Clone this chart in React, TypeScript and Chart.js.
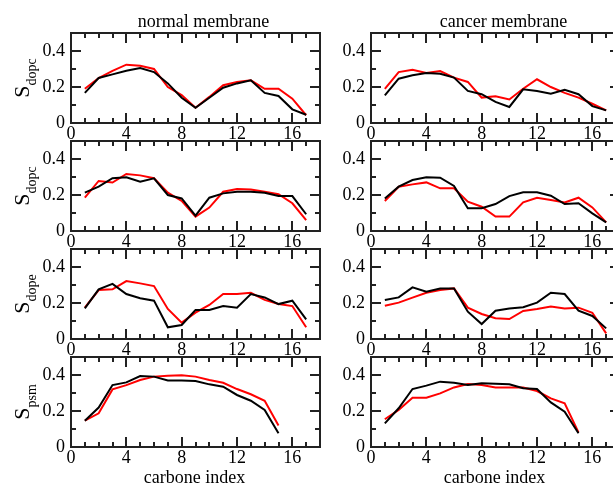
import React, { useEffect, useRef } from "react";
import { Chart, registerables } from "chart.js";

Chart.register(...registerables);

// ---------- data ----------
const carbonIdx17 = [1, 2, 3, 4, 5, 6, 7, 8, 9, 10, 11, 12, 13, 14, 15, 16, 17];
const carbonIdx15 = [1, 2, 3, 4, 5, 6, 7, 8, 9, 10, 11, 12, 13, 14, 15];

const normDopcA_black = [0.167, 0.25, 0.27, 0.29, 0.305, 0.283, 0.22, 0.14, 0.085, 0.14, 0.196, 0.22, 0.237, 0.167, 0.15, 0.076, 0.046];
const normDopcA_red = [0.19, 0.25, 0.29, 0.324, 0.318, 0.3, 0.2, 0.155, 0.085, 0.145, 0.21, 0.228, 0.237, 0.19, 0.19, 0.135, 0.043];
const cancDopcA_black = [0.154, 0.246, 0.265, 0.278, 0.274, 0.252, 0.178, 0.16, 0.117, 0.089, 0.187, 0.178, 0.163, 0.185, 0.16, 0.094, 0.07];
const cancDopcA_red = [0.19, 0.283, 0.296, 0.278, 0.289, 0.252, 0.228, 0.141, 0.148, 0.131, 0.19, 0.243, 0.2, 0.167, 0.141, 0.107, 0.07];

const normDopcB_black = [0.213, 0.246, 0.293, 0.298, 0.274, 0.293, 0.2, 0.181, 0.085, 0.185, 0.209, 0.218, 0.218, 0.213, 0.194, 0.194, 0.093];
const normDopcB_red = [0.185, 0.278, 0.269, 0.317, 0.309, 0.293, 0.213, 0.167, 0.08, 0.13, 0.218, 0.233, 0.231, 0.218, 0.204, 0.154, 0.061];
const cancDopcB_black = [0.181, 0.246, 0.283, 0.298, 0.296, 0.25, 0.126, 0.126, 0.15, 0.194, 0.215, 0.215, 0.196, 0.15, 0.154, 0.098, 0.048];
const cancDopcB_red = [0.167, 0.246, 0.259, 0.27, 0.237, 0.237, 0.163, 0.135, 0.08, 0.08, 0.159, 0.185, 0.172, 0.159, 0.185, 0.131, 0.048];

const normDope_black = [0.17, 0.276, 0.306, 0.25, 0.226, 0.213, 0.065, 0.078, 0.161, 0.161, 0.183, 0.174, 0.25, 0.231, 0.194, 0.213, 0.109];
const normDope_red = [0.174, 0.272, 0.276, 0.322, 0.309, 0.294, 0.167, 0.091, 0.146, 0.189, 0.25, 0.25, 0.257, 0.217, 0.194, 0.183, 0.065];
const cancDope_black = [0.217, 0.231, 0.287, 0.263, 0.281, 0.281, 0.152, 0.083, 0.157, 0.17, 0.176, 0.202, 0.257, 0.25, 0.157, 0.128, 0.059];
const cancDope_red = [0.185, 0.202, 0.23, 0.257, 0.272, 0.281, 0.174, 0.139, 0.115, 0.111, 0.156, 0.167, 0.18, 0.17, 0.174, 0.146, 0.031];

const normPsm_black = [0.146, 0.219, 0.344, 0.359, 0.394, 0.391, 0.37, 0.37, 0.367, 0.348, 0.335, 0.289, 0.257, 0.206, 0.076];
const normPsm_red = [0.146, 0.187, 0.32, 0.344, 0.372, 0.391, 0.396, 0.398, 0.391, 0.372, 0.357, 0.322, 0.293, 0.257, 0.119];
const cancPsm_black = [0.131, 0.215, 0.322, 0.341, 0.363, 0.357, 0.344, 0.354, 0.352, 0.348, 0.326, 0.322, 0.248, 0.196, 0.076];
const cancPsm_red = [0.154, 0.206, 0.274, 0.274, 0.298, 0.331, 0.35, 0.344, 0.331, 0.33, 0.33, 0.311, 0.27, 0.243, 0.081];

const columnTitles = ["normal membrane", "cancer membrane"];
const rowLabelSubs = ["dopc", "dopc", "dope", "psm"];
const xAxisTitle = "carbone index";
const xTickValues = [0, 4, 8, 12, 16];
const yTickValues = [0, 0.2, 0.4];
const xRange = [0, 18];
const yRange = [0, 0.5];
const xMinorStep = 1;
const yMinorStep = 0.1;

// ---------- layout / style ----------
const FONT = '"Liberation Serif", "Times New Roman", serif';
const PLOT_TOPS = [33, 141, 249, 357];
const PLOT_H = 90;
const Y_AXIS_W = 71;
const CANVAS_W = 330;
const PAD_RIGHT = 10;
const W = 613;
const H = 487;

type PanelDef = {
  row: number;
  col: number;
  xs: number[];
  black: number[];
  red: number[];
};

const panels: PanelDef[] = [
  { row: 0, col: 0, xs: carbonIdx17, black: normDopcA_black, red: normDopcA_red },
  { row: 0, col: 1, xs: carbonIdx17, black: cancDopcA_black, red: cancDopcA_red },
  { row: 1, col: 0, xs: carbonIdx17, black: normDopcB_black, red: normDopcB_red },
  { row: 1, col: 1, xs: carbonIdx17, black: cancDopcB_black, red: cancDopcB_red },
  { row: 2, col: 0, xs: carbonIdx17, black: normDope_black, red: normDope_red },
  { row: 2, col: 1, xs: carbonIdx17, black: cancDope_black, red: cancDope_red },
  { row: 3, col: 0, xs: carbonIdx15, black: normPsm_black, red: normPsm_red },
  { row: 3, col: 1, xs: carbonIdx15, black: cancPsm_black, red: cancPsm_red },
];

function Panel({ p }: { p: PanelDef }) {
  const ref = useRef<HTMLCanvasElement>(null);
  const padTop = p.row === 0 ? 33 : 20;
  const plotTop = PLOT_TOPS[p.row];
  const canvasTop = plotTop - padTop;
  const canvasH = p.row === 3 ? H - canvasTop : padTop + PLOT_H + 22;
  const canvasLeft = p.col === 0 ? 0 : 300;
  const xAxisH = canvasH - padTop - PLOT_H;

  useEffect(() => {
    const canvas = ref.current;
    if (!canvas) return;

    const framePlugin = {
      id: "frameTicks",
      beforeDatasetsDraw(chart: any) {
        const { ctx, chartArea } = chart;
        const xs = chart.scales.x;
        const ys = chart.scales.y;
        ctx.save();
        ctx.strokeStyle = "#222";
        ctx.lineWidth = 2;
        ctx.beginPath();
        for (let v = xRange[0] + xMinorStep; v < xRange[1] - 1e-9; v += xMinorStep) {
          const px = Math.round(xs.getPixelForValue(v));
          const major = Math.abs(v % 4) < 1e-9;
          const len = major ? 10 : 5;
          ctx.moveTo(px, chartArea.bottom);
          ctx.lineTo(px, chartArea.bottom - len);
          ctx.moveTo(px, chartArea.top);
          ctx.lineTo(px, chartArea.top + len);
        }
        for (let i = 1; i * yMinorStep < yRange[1] - 1e-9; i++) {
          const v = i * yMinorStep;
          const py = Math.round(ys.getPixelForValue(v));
          const major = i % 2 === 0;
          const len = major ? 10 : 5;
          ctx.moveTo(chartArea.left, py);
          ctx.lineTo(chartArea.left + len, py);
          ctx.moveTo(chartArea.right, py);
          ctx.lineTo(chartArea.right - len, py);
        }
        ctx.stroke();
        ctx.strokeRect(chartArea.left, chartArea.top, chartArea.right - chartArea.left, chartArea.bottom - chartArea.top);
        ctx.restore();
      },
      afterDraw(chart: any) {
        const { ctx, chartArea } = chart;
        ctx.save();
        ctx.fillStyle = "#000";
        // column title
        if (p.row === 0) {
          ctx.font = `18px ${FONT}`;
          ctx.textAlign = "center";
          ctx.textBaseline = "alphabetic";
          const cx = (chartArea.left + chartArea.right) / 2 + 8;
          ctx.fillText(columnTitles[p.col], cx, chartArea.top - 6);
        }
        // x axis title
        if (p.row === 3) {
          ctx.font = `18px ${FONT}`;
          ctx.textAlign = "center";
          ctx.textBaseline = "alphabetic";
          const cx = (chartArea.left + chartArea.right) / 2 - 1;
          ctx.fillText(xAxisTitle, cx, chartArea.bottom + 36);
        }
        // y label with subscript
        if (p.col === 0) {
          const sub = rowLabelSubs[p.row];
          ctx.font = `22px ${FONT}`;
          const wS = ctx.measureText("S").width;
          ctx.font = `14px ${FONT}`;
          const wSub = ctx.measureText(sub).width;
          const total = wS + wSub;
          const cy = (chartArea.top + chartArea.bottom) / 2;
          ctx.translate(28.5, cy);
          ctx.rotate(-Math.PI / 2);
          ctx.textAlign = "left";
          ctx.textBaseline = "alphabetic";
          ctx.font = `22px ${FONT}`;
          ctx.fillText("S", -total / 2, 0);
          ctx.font = `14px ${FONT}`;
          ctx.fillText(sub, -total / 2 + wS, 7);
        }
        ctx.restore();
      },
    };

    const chart = new Chart(canvas, {
      type: "line",
      data: {
        datasets: [
          {
            data: p.xs.map((x, i) => ({ x, y: p.black[i] })),
            borderColor: "#000000",
            borderWidth: 2,
            pointRadius: 0,
            tension: 0,
          },
          {
            data: p.xs.map((x, i) => ({ x, y: p.red[i] })),
            borderColor: "#ff0000",
            borderWidth: 2,
            pointRadius: 0,
            tension: 0,
          },
        ],
      },
      options: {
        responsive: false,
        animation: false,
        devicePixelRatio: 1,
        layout: { padding: { left: 0, top: padTop, right: PAD_RIGHT, bottom: 0 } },
        plugins: { legend: { display: false }, tooltip: { enabled: false }, title: { display: false } },
        events: [],
        scales: {
          x: {
            type: "linear",
            min: xRange[0],
            max: xRange[1],
            grid: { display: false, drawTicks: false },
            border: { display: false },
            afterBuildTicks: (s: any) => {
              s.ticks = xTickValues.map((v) => ({ value: v }));
            },
            afterFit: (s: any) => {
              s.height = xAxisH;
            },
            ticks: {
              autoSkip: false,
              maxRotation: 0,
              padding: 0,
              color: "#000",
              font: { family: FONT, size: 18 },
              callback: (v: any) => String(v),
            },
          },
          y: {
            type: "linear",
            min: yRange[0],
            max: yRange[1],
            grid: { display: false, drawTicks: false },
            border: { display: false },
            afterBuildTicks: (s: any) => {
              s.ticks = yTickValues.map((v) => ({ value: v }));
            },
            afterFit: (s: any) => {
              s.width = Y_AXIS_W;
            },
            ticks: {
              autoSkip: false,
              padding: 6,
              color: "#000",
              font: { family: FONT, size: 18 },
              callback: (v: any) => String(Math.round(v * 10) / 10),
            },
          },
        },
      },
      plugins: [framePlugin],
    } as any);
    return () => chart.destroy();
  }, []);

  return (
    <canvas
      ref={ref}
      width={CANVAS_W}
      height={canvasH}
      style={{
        position: "absolute",
        left: canvasLeft,
        top: canvasTop,
        width: CANVAS_W,
        height: canvasH,
      }}
    />
  );
}

export default function App() {
  return (
    <div
      style={{
        position: "fixed",
        left: 0,
        top: 0,
        width: W,
        height: H,
        overflow: "hidden",
        background: "#fff",
      }}
    >
      {panels.map((p, i) => (
        <Panel key={i} p={p} />
      ))}
    </div>
  );
}
